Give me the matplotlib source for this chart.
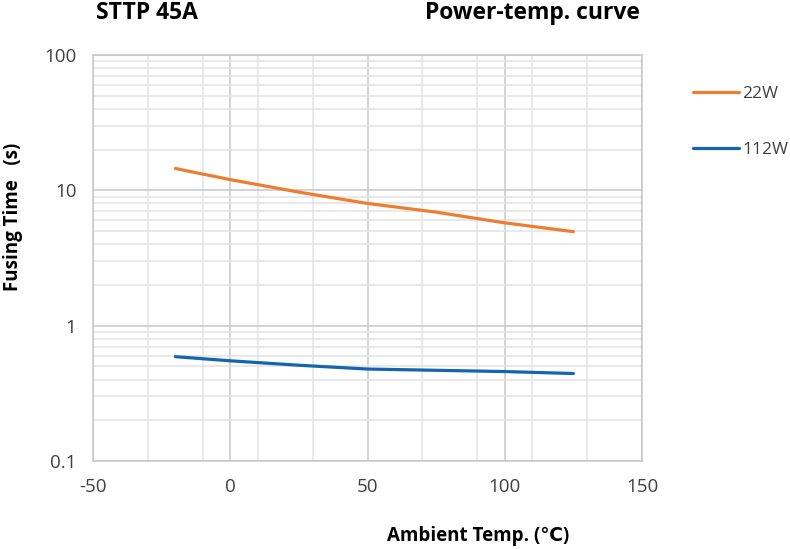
import matplotlib
matplotlib.use("Agg")
import matplotlib.pyplot as plt
import numpy as np

plt.rcParams['font.family'] = ['Open Sans', 'DejaVu Sans']

temps = [-20, 0, 25, 50, 75, 100, 125]
w22 = [14.5, 12.0, 9.7, 8.0, 6.9, 5.75, 4.95]
w112 = [0.59, 0.55, 0.51, 0.478, 0.468, 0.458, 0.443]
series_labels = ['22W', '112W']
xticks = [-50, 0, 50, 100, 150]
xminor = [-30, -10, 10, 30, 70, 90, 110, 130]
yticks = [0.1, 1, 10, 100]
ytick_labels = ['0.1', '1', '10', '100']

fig = plt.figure(figsize=(7.9, 5.49), dpi=100)
ax = fig.add_axes([93/790, 1 - 461/549, (642-93)/790, (461-55)/549])
ax.set_yscale('log')
ax.set_xlim(-50, 150)
ax.set_ylim(0.1, 100)

# grid
for x in xminor:
    ax.axvline(x, color='#E3E3E3', lw=1.1, zorder=0)
for x in xticks:
    ax.axvline(x, color='#C8C8C8', lw=1.1, zorder=0)
for dec in [0.1, 1, 10]:
    for m in range(2, 10):
        ax.axhline(dec*m, color='#E3E3E3', lw=1.1, zorder=0)
for y in yticks:
    ax.axhline(y, color='#C8C8C8', lw=1.1, zorder=0)

l1, = ax.plot(temps, w22, color='#ED7D31', lw=2.3, solid_capstyle='round', label=series_labels[0])
l2, = ax.plot(temps, w112, color='#1565AE', lw=2.3, solid_capstyle='round', label=series_labels[1])

ax.set_xticks(xticks)
ax.set_xticklabels([str(v) for v in xticks])
ax.set_yticks(yticks)
ax.set_yticklabels(ytick_labels)
ax.minorticks_off()
ax.tick_params(axis='both', length=0, labelsize=13.5, colors='#404040', labelcolor='#404040')
ax.tick_params(axis='x', pad=12)
ax.tick_params(axis='y', pad=12)
for s in ax.spines.values():
    s.set_color('#C8C8C8')
    s.set_linewidth(1.1)

fig.text(96/790, 1 - 13/549, 'STTP 45A', fontsize=16.5, fontweight='bold', ha='left', va='center', color='black')
fig.text(640/790, 1 - 13/549, 'Power-temp. curve', fontsize=16.5, fontweight='bold', ha='right', va='center', color='black')
fig.text(478/790, 1 - 536/549, 'Ambient Temp. (℃)', fontsize=13.5, fontweight='bold', ha='center', va='center', color='black')
fig.text(13/790, 1 - 217/549, 'Fusing Time   (s)', fontsize=13.5, fontweight='bold', ha='center', va='center', rotation=90, color='black')

fig.legend(handles=[l1, l2], loc='upper left', bbox_to_anchor=(693/790, 1 - 85.5/549),
           frameon=False, fontsize=12.5, labelcolor='#404040', handlelength=2.65,
           handletextpad=0.2, labelspacing=2.3, borderpad=0, borderaxespad=0)

fig.savefig('out.png', dpi=100)
